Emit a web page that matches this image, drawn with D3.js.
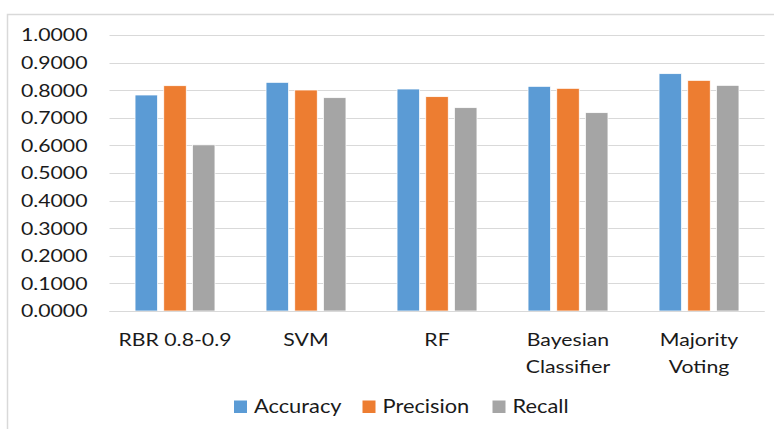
<!DOCTYPE html>
<html>
<head>
<meta charset="utf-8">
<script src="https://cdn.jsdelivr.net/npm/d3@7"></script>
<style>
  html, body { margin: 0; padding: 0; background: #fff; }
  svg { display: block; }
  text { font-family: Lato, "Open Sans", sans-serif; fill: #1a1a1a; }
</style>
</head>
<body>
<div id="chart"></div>
<script>
// Classifier comparison: accuracy, precision and recall per method
const categories = [["RBR 0.8-0.9"], ["SVM"], ["RF"], ["Bayesian", "Classifier"], ["Majority", "Voting"]];
const seriesNames = ["Accuracy", "Precision", "Recall"];
const accuracy  = [0.7826, 0.8285, 0.8043, 0.8140, 0.8599];
const precision = [0.8163, 0.8007, 0.7766, 0.8068, 0.8357];
const recall    = [0.6020, 0.7729, 0.7367, 0.7186, 0.8176];
const yTicks = [0, 0.1, 0.2, 0.3, 0.4, 0.5, 0.6, 0.7, 0.8, 0.9, 1.0];
const colors = ["#5b9bd5", "#ed7d31", "#a5a5a5"];

const W = 774, H = 429;
const plot = { left: 109.5, right: 764.5, top: 35, bottom: 311 };
const sx = 1.18; // horizontal stretch applied to all labels

const catKeys = categories.map(c => c.join(" "));
const rows = catKeys.map((k, i) => ({ key: k, lines: categories[i], values: [accuracy[i], precision[i], recall[i]] }));

const svg = d3.select("#chart").append("svg").attr("width", W).attr("height", H);

// chart frame (left and top edges)
svg.append("path")
  .attr("d", `M7.5,${H} V14.5 H${W}`)
  .attr("fill", "none").attr("stroke", "#d9d9d9").attr("stroke-width", 1.5);

const x0 = d3.scaleBand().domain(catKeys).range([plot.left, plot.right]).paddingInner(0.39).paddingOuter(0.195);
const x1 = d3.scaleBand().domain(seriesNames).range([0, x0.bandwidth()]).paddingInner(0.216);
const y = d3.scaleLinear().domain([0, 1]).range([plot.bottom, plot.top]);

// gridlines
svg.append("g").selectAll("line").data(yTicks).join("line")
  .attr("x1", plot.left).attr("x2", plot.right)
  .attr("y1", d => Math.round(y(d)) + 0.5).attr("y2", d => Math.round(y(d)) + 0.5)
  .attr("stroke", "#d9d9d9").attr("stroke-width", 1);

// y tick labels
svg.append("g").selectAll("text").data(yTicks).join("text")
  .attr("transform", d => `translate(87.5,${y(d)}) scale(${sx},1)`)
  .attr("text-anchor", "end").attr("dy", "0.36em")
  .style("font-size", "18px")
  .text(d => d3.format(".4f")(d));

// bars
const groups = svg.append("g").selectAll("g").data(rows).join("g")
  .attr("transform", d => `translate(${x0(d.key)},0)`);
groups.selectAll("rect").data(d => d.values.map((v, i) => ({ s: seriesNames[i], v, i })))
  .join("rect")
  .attr("x", d => x1(d.s))
  .attr("width", x1.bandwidth())
  .attr("y", d => y(d.v))
  .attr("height", d => y(0) - y(d.v))
  .attr("fill", d => colors[d.i])
  .attr("stroke", "#fff").attr("stroke-width", 0.75);

// baseline axis
svg.append("line")
  .attr("x1", plot.left).attr("x2", plot.right)
  .attr("y1", Math.round(y(0)) + 0.5).attr("y2", Math.round(y(0)) + 0.5)
  .attr("stroke", "#d9d9d9").attr("stroke-width", 1);

// category labels
const labels = svg.append("g").selectAll("text").data(rows).join("text")
  .attr("transform", d => `translate(${x0(d.key) + x0.bandwidth() / 2},345.5) scale(${sx},1)`)
  .attr("text-anchor", "middle")
  .style("font-size", "18px");
labels.selectAll("tspan").data(d => d.lines).join("tspan")
  .attr("x", 0).attr("y", (d, i) => i * 27.5)
  .text(d => d);

// legend
const legendX = [234, 362.5, 492.5];
const legend = svg.append("g").selectAll("g").data(seriesNames).join("g")
  .attr("transform", (d, i) => `translate(${legendX[i]},0)`);
legend.append("rect")
  .attr("x", 0).attr("y", 400.5).attr("width", 13).attr("height", 12.5)
  .attr("fill", (d, i) => colors[i]);
legend.append("text")
  .attr("transform", `translate(20,413) scale(${sx},1)`)
  .style("font-size", "18.5px")
  .text(d => d);
</script>
</body>
</html>
